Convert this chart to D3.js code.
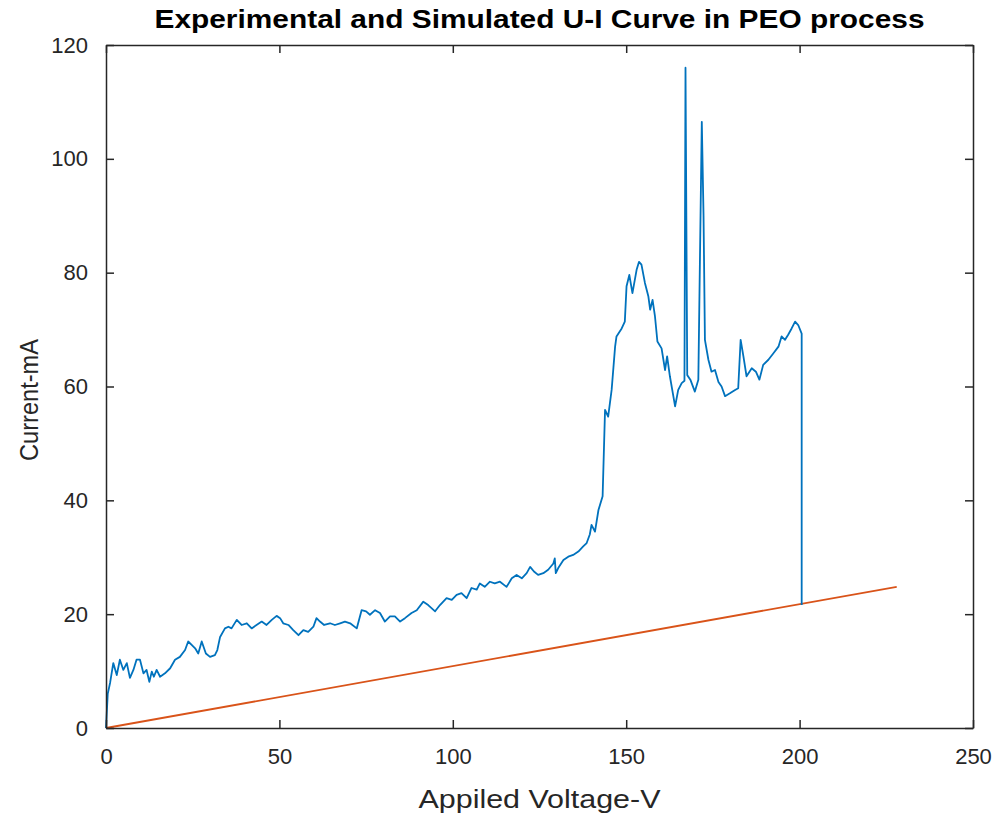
<!DOCTYPE html>
<html><head><meta charset="utf-8">
<script src="https://cdn.jsdelivr.net/npm/d3@7"></script>
<style>body{margin:0;background:#fff}svg{display:block}text{font-family:"Liberation Sans",Arial,sans-serif;fill:#262626}</style>
</head><body><svg id="c" width="998" height="817"></svg>
<script>
const title = "Experimental and Simulated U-I Curve in PEO process";
const xLabel = "Appiled Voltage-V";
const yLabel = "Current-mA";
const xTicks = [0, 50, 100, 150, 200, 250];
const yTicks = [0, 20, 40, 60, 80, 100, 120];
// Experimental curve (voltage, current)
const expV = [0,0.5,1.2,2.1,3.1,4,5,6,6.9,7.9,8.8,9.8,10.8,11.7,12.5,13.2,13.8,14.6,15.6,17,18.5,19.9,21.3,22.8,23.7,24.7,25.7,26.6,27.6,28.8,30,31.4,32.1,32.9,34.3,35.3,36.2,37.7,39.1,40.6,42,43.4,44.9,46.3,47.8,49.2,50.2,51.1,52.6,54,55.5,56.9,58.3,59.8,60.7,61.7,62.9,64.6,66,67.5,68.9,70.4,72.3,73.7,75,76.1,77.6,79,80.4,81.9,83.3,84.8,86.2,88.1,89.6,91.5,92.9,94.9,96.3,98.2,99.7,101.1,102.5,104,105.4,106.9,107.8,109.2,110.7,112.1,113.6,115.5,117,118.4,119.9,121.3,122.3,123.4,124.6,126.1,127.5,129,129.4,129.7,130.4,131.9,133.3,134.7,136.2,137.6,138.6,139.5,140,141,142,143.2,143.9,144.8,145.8,146.8,147.2,148.7,149.6,150.1,150.9,151.8,153,153.7,154.4,155.4,156.4,156.9,157.6,158.3,159,160.2,161.2,161.8,162.6,164.1,165,166,166.8,167.1,167.6,168.5,169.8,170.8,171.3,171.8,172.3,172.7,173.7,174.6,175.6,176.6,177.5,178.5,179.9,181.4,182.3,183,183.8,184.7,186.2,187.4,188.4,189.5,191,192.4,193.9,194.8,195.8,196.7,197.7,198.7,199.6,200.6,200.6];
const expI = [0,6,8,11.4,9.3,12,10.2,11.4,8.8,10.2,12,12,9.6,10.2,8.1,9.9,9,10.2,9,9.6,10.5,12,12.5,13.7,15.2,14.6,14,13.1,15.2,13.1,12.5,12.8,13.7,16,17.5,17.8,17.5,19,18.1,18.4,17.5,18.1,18.7,18.1,19,19.7,19.3,18.4,18.1,17.2,16.3,17.2,16.9,17.8,19.3,18.7,18.1,18.4,18.1,18.4,18.7,18.4,17.5,20.7,20.5,19.9,20.7,20.2,18.7,19.6,19.6,18.7,19.3,20.2,20.7,22.2,21.6,20.5,21.6,22.8,22.5,23.4,23.7,22.8,24.6,24.3,25.4,24.8,25.7,25.4,25.7,24.8,26.3,26.9,26.3,27.2,28.3,27.5,26.9,27.2,27.8,28.9,29.8,27.2,28.1,29.5,30.1,30.4,31,31.9,32.5,34,35.7,34.5,38.3,40.7,55.9,54.7,59.4,67,68.8,70.2,71.4,77.6,79.6,76.4,80.5,81.9,81.4,78.2,75.8,73.5,75.2,72.3,67.9,66.7,62.9,65.3,61.8,56.5,59.4,60.6,61,116,62,61.2,59.1,61.2,84,106.5,90,68.2,64.7,62.6,62.9,60.8,60,58.3,58.8,59.4,59.7,68.2,65.3,61.8,63.2,62.6,61.2,63.8,64.7,65.8,67,68.8,68.2,69.1,70.2,71.4,70.8,69.3,21.6];
// Simulated curve
const simV = [0, 228];
const simI = [0, 24.8];

const svg = d3.select("#c");
const L = 106, R = 973, T = 45, B = 728;
const x = d3.scaleLinear().domain([0, 250]).range([L, R]);
const y = d3.scaleLinear().domain([0, 120]).range([B, T]);
const axisCol = "#262626";

const line = d3.line().x(d => x(d[0])).y(d => y(d[1]));
const expData = expV.map((v, i) => [v, expI[i]]);
const simData = simV.map((v, i) => [v, simI[i]]);

svg.append("path").datum(simData).attr("d", line).attr("fill", "none")
  .attr("stroke", "#D95319").attr("stroke-width", 1.8);
svg.append("path").datum(expData).attr("d", line).attr("fill", "none")
  .attr("stroke", "#0072BD").attr("stroke-width", 1.8).attr("stroke-linejoin", "round");

const tl = 8;
const fs = 22;
const gB = svg.append("g").attr("transform", `translate(0,${B})`)
  .call(d3.axisBottom(x).tickValues(xTicks).tickSizeInner(-tl).tickSizeOuter(0).tickPadding(20));
const gT = svg.append("g").attr("transform", `translate(0,${T})`)
  .call(d3.axisTop(x).tickValues(xTicks).tickSizeInner(-tl).tickSizeOuter(0).tickFormat(""));
const gL = svg.append("g").attr("transform", `translate(${L},0)`)
  .call(d3.axisLeft(y).tickValues(yTicks).tickSizeInner(-tl).tickSizeOuter(0).tickPadding(18));
const gR = svg.append("g").attr("transform", `translate(${R},0)`)
  .call(d3.axisRight(y).tickValues(yTicks).tickSizeInner(-tl).tickSizeOuter(0).tickFormat(""));
[gB, gT, gL, gR].forEach(g => {
  g.selectAll("path.domain").attr("stroke", axisCol).attr("stroke-width", 1.5);
  g.selectAll(".tick line").attr("stroke", axisCol).attr("stroke-width", 1.5);
  g.selectAll(".tick text").attr("font-size", fs).attr("fill", axisCol)
    .style("font-family", "'Liberation Sans', Arial, sans-serif");
});

svg.append("text").attr("x", (L + R) / 2).attr("y", 28).attr("text-anchor", "middle")
  .attr("font-size", 25).attr("font-weight", "bold").style("fill", "#000")
  .attr("textLength", 770).attr("lengthAdjust", "spacingAndGlyphs").text(title);
svg.append("text").attr("x", (L + R) / 2).attr("y", 808).attr("text-anchor", "middle")
  .attr("font-size", 26).attr("textLength", 242).attr("lengthAdjust", "spacingAndGlyphs").text(xLabel);
svg.append("text").attr("transform", `translate(38,400) rotate(-90)`)
  .attr("text-anchor", "middle").attr("font-size", 26)
  .attr("textLength", 122).attr("lengthAdjust", "spacingAndGlyphs").text(yLabel);
</script></body></html>
